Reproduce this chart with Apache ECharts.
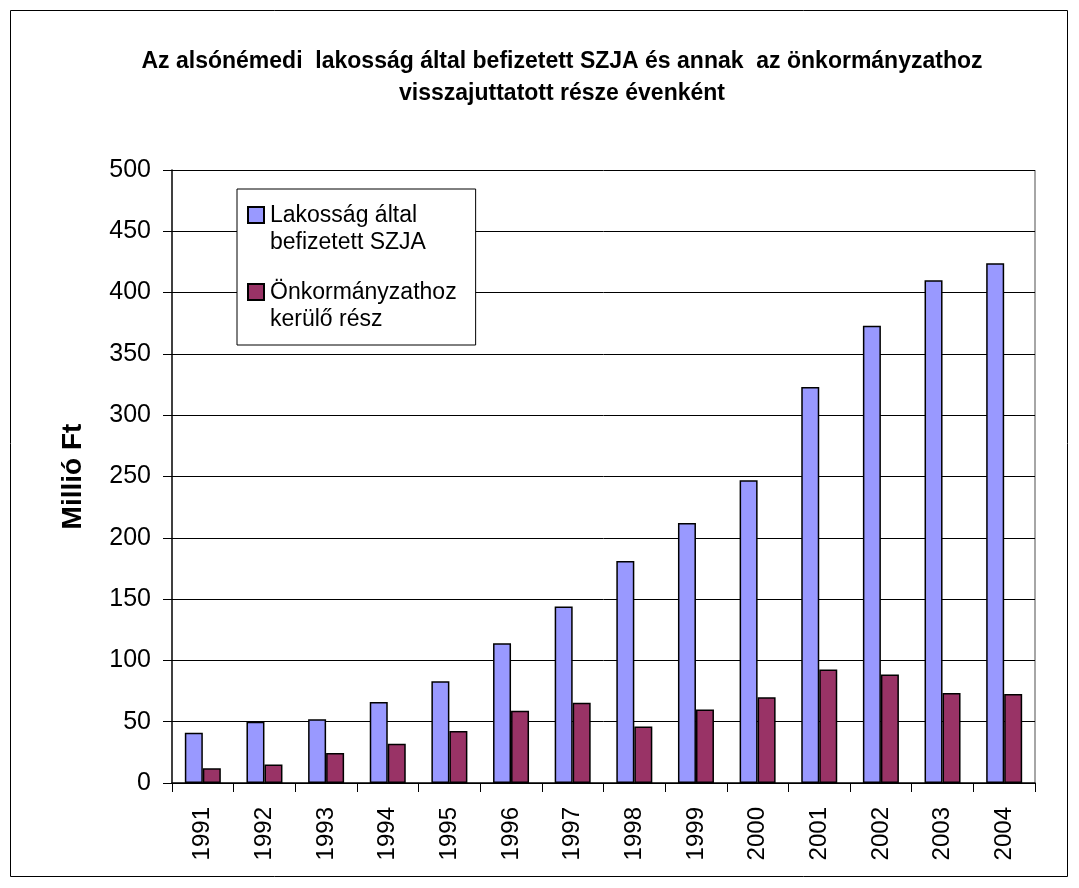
<!DOCTYPE html>
<html><head><meta charset="utf-8">
<script src="https://cdn.jsdelivr.net/npm/echarts@6/dist/echarts.min.js"></script>
<style>html,body{margin:0;padding:0;background:#fff}#c{width:1079px;height:888px}</style>
</head><body><div id="c"></div>
<script>
const years = ['1991','1992','1993','1994','1995','1996','1997','1998','1999','2000','2001','2002','2003','2004'];
const szja = [41, 50, 52, 66, 83, 114, 144, 181, 212, 247, 323, 373, 410, 424];
const onk = [12, 15, 24.5, 32, 42.5, 59, 65.5, 46, 60, 70, 92.5, 88.5, 73.5, 72.5];
const seriesNames = ['Lakosság által befizetett SZJA', 'Önkormányzathoz kerülő rész'];
const legendLabels = {'Lakosság által befizetett SZJA':'Lakosság által\nbefizetett SZJA','Önkormányzathoz kerülő rész':'Önkormányzathoz\nkerülő rész'};
const titleText = 'Az alsónémedi  lakosság által befizetett SZJA és annak  az önkormányzathoz\nvisszajuttatott része évenként';
const yAxisName = 'Millió Ft';

const chart = echarts.init(document.getElementById('c'));
const font = 'Liberation Sans, Arial, sans-serif';
chart.setOption({
  backgroundColor:'#fff',
  animation:false,
  title:{
    text:titleText,
    left:557, top:41, textAlign:'center',
    textStyle:{fontFamily:font,fontSize:23,fontWeight:'bold',color:'#000',lineHeight:32}
  },
  graphic:[
    {type:'rect',shape:{x:10.5,y:10.5,width:1057,height:866},style:{fill:'none',stroke:'#000',lineWidth:1},silent:true,z:-1},
    {type:'line',shape:{x1:1035,y1:170,x2:1035,y2:783},style:{stroke:'#888',lineWidth:1.5},silent:true}
  ],
  legend:{
    orient:'vertical', left:237, top:189,
    backgroundColor:'#fff', borderColor:'#000', borderWidth:1,
    padding:[13,19,12,10], itemGap:23, itemWidth:16, itemHeight:44,
    icon:'path://M0,0 L16,0 L16,16 L0,16 Z M0,44 L0,44',
    formatter:n=>legendLabels[n],
    textStyle:{fontFamily:font,fontSize:23,color:'#000',lineHeight:27,padding:[0,0,0,1]},
    data:seriesNames
  },
  grid:{left:172,right:44,top:170,bottom:105},
  xAxis:{
    type:'category', data:years,
    axisLine:{lineStyle:{color:'#000',width:1.5}},
    axisTick:{show:true,alignWithLabel:false,length:9,lineStyle:{color:'#000'}},
    axisLabel:{rotate:90,fontFamily:font,fontSize:24,color:'#000',margin:24,verticalAlign:'middle'}
  },
  yAxis:{
    type:'value', min:0, max:500, interval:50,
    name:yAxisName, nameLocation:'middle', nameGap:85, nameRotate:90,
    nameTextStyle:{fontFamily:font,fontSize:28,fontWeight:'bold',color:'#000'},
    axisLine:{show:true,lineStyle:{color:'#000',width:1.5}},
    axisTick:{show:true,length:9,lineStyle:{color:'#000'}},
    axisLabel:{fontFamily:font,fontSize:25,color:'#000',margin:21},
    splitLine:{show:true,lineStyle:{color:'#000',width:1}}
  },
  series:[
    {name:seriesNames[0],type:'bar',data:szja,barWidth:18,barGap:'0%',
     itemStyle:{color:'#9999FF',borderColor:'#000',borderWidth:1.5}},
    {name:seriesNames[1],type:'bar',data:onk,barWidth:18,barGap:'0%',
     itemStyle:{color:'#993366',borderColor:'#000',borderWidth:1.5}}
  ]
});
</script></body></html>
